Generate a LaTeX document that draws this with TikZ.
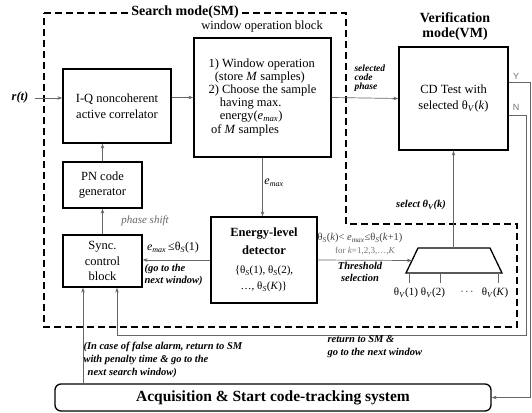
\documentclass[tikz,border=0pt]{standalone}
\usepackage{fontspec}
\setmainfont{Liberation Serif}
\setsansfont{Liberation Sans}
\usetikzlibrary{arrows.meta}

\newcommand{\thetaS}{θ\textsubscript{\textit{S}}}
\newcommand{\thetaV}{θ\textsubscript{\textit{V}}}
\newcommand{\emax}{\textit{e}\textsubscript{\textit{max}}}

\tikzset{
  blk/.style={draw, line width=1.3pt, align=center, inner sep=2pt, font=\fontsize{12.5}{15.5}\selectfont},
  arr/.style={draw=black!60, line width=0.7pt, -{Stealth[length=5pt,width=3.5pt]}},
  smbox/.style={line width=1.6pt, dash pattern=on 7pt off 4pt},
  lbl/.style={font=\fontsize{10.5}{12.8}\selectfont\bfseries\itshape, align=left},
}

\begin{document}
\begin{tikzpicture}[x=1pt,y=-1pt]
\useasboundingbox (0,0) rectangle (532,412);
% search mode region
\draw[smbox] (44,13) -- (346,13) -- (346,224) -- (517,224) -- (517,327) -- (44,327) -- cycle;
\node[fill=white, inner sep=1pt, font=\fontsize{14}{16}\selectfont\bfseries] (smlbl) at (185,12) {Search mode(SM)};

% blocks
\node[blk, minimum width=108pt, minimum height=74pt] (iq) at (117,106) {I-Q noncoherent\\active correlator};
\node[blk, minimum width=79pt, minimum height=46pt] (pn) at (102.5,185) {PN code\\generator};
\node[blk, minimum width=79pt, minimum height=52pt] (sync) at (102.5,261) {Sync.\\control\\block};
\node[blk, minimum width=137pt, minimum height=119pt, align=left, font=\fontsize{12.5}{13}\selectfont] (wop) at (262.5,97.5)
  {1) Window operation\\ \hspace*{0.5em}(store \textit{M} samples)\\2) Choose the sample\\ \hspace*{0.9em}having max.\\ \hspace*{0.9em}energy(\emax)\\[1pt] \hspace*{0.2em}of \textit{M} samples};
\node[blk, minimum width=106pt, minimum height=86pt] (enr) at (264,260)
  {\textbf{Energy-level}\\[2pt]\textbf{detector}\\[4pt]{\fontsize{11}{13}\selectfont\{\thetaS(1), \thetaS(2),}\\{\fontsize{11}{13}\selectfont…, \thetaS(\textit{K})\}}};
\node[blk, minimum width=109pt, minimum height=103pt] (cd) at (453.5,98.5) {CD Test with\\selected \thetaV(\textit{k})};
\node[draw, line width=1.3pt, rounded corners=6pt, minimum width=436pt, minimum height=27pt,
  font=\fontsize{15.5}{18}\selectfont\bfseries] (acq) at (273,397.5) {Acquisition \& Start code-tracking system};

% threshold selector
\draw[line width=1.3pt] (406,273) -- (418,248) -- (490,248) -- (502,273) -- cycle;
\coordinate (trin) at (412,260.5);
\coordinate (trtop) at (453.5,248);
\foreach \x in {409,440,498} \draw[black!60, line width=0.7pt] (\x,273) -- (\x,283);
\node[font=\fontsize{11}{12}\selectfont] (v1) at (406,293) {\thetaV(1)};
\node[font=\fontsize{11}{12}\selectfont] (v2) at (433,293) {\thetaV(2)};
\node[font=\fontsize{11}{12}\selectfont] (vd) at (467,292) {$\cdots$};
\node[font=\fontsize{11}{12}\selectfont] (vk) at (495,293) {\thetaV(\textit{K})};

% connectors
\coordinate (rin) at (35,98);
\coordinate (ycor) at (530,397.5);
\coordinate (ncor) at (526,335);
\coordinate (nend) at ([xshift=14.5pt]sync.south);
\coordinate (aend) at ([xshift=-19.5pt]sync.south);
\draw[arr] (rin) -- (rin -| iq.west);
\draw[arr] (iq.east |- wop.west) -- (wop.west);
\draw[arr] (wop.east) -- (cd.west);
\draw[arr] (wop.south) -- (wop.south |- enr.north);
\draw[arr] (enr.west) -- (enr.west -| sync.east);
\draw[arr] (sync.north) -- (pn.south);
\draw[arr] (pn.north) -- (pn.north |- iq.south);
\draw[arr] (enr.east) -- (trin);
\draw[arr] (trtop) -- (cd.south);
\draw[arr] ([yshift=16.5pt]cd.east) -| (ycor) -- (acq.east);
\draw[arr] ([yshift=-16.5pt]cd.east) -| (ncor) -| (nend);
\draw[arr] (acq.north -| aend) -- (aend);

% labels
\node[font=\fontsize{12.5}{14}\selectfont\bfseries\itshape] (rt) at (20,97) {r(t)};
\node[font=\fontsize{12.5}{14}\selectfont] (woplbl) at (262,26) {window operation block};
\node[align=center, font=\fontsize{14}{15}\selectfont\bfseries] (vmlbl) at (455,27) {Verification\\mode(VM)};
\node[lbl, anchor=west, font=\fontsize{9.5}{9}\selectfont\bfseries\itshape] (sclbl) at (351,78) {selected\\code\\phase};
\node[font=\fontsize{12}{14}\selectfont] (emlbl) at (274,183) {\emax};
\node[lbl] (svlbl) at (421,205) {select \thetaV(\textit{k})};
\node[text=black!75, font=\fontsize{10.5}{11}\selectfont] (cond) at (360,238) {\thetaS(\textit{k})< \emax≤\thetaS(\textit{k}+1)};
\node[text=black!55, font=\fontsize{9}{10}\selectfont] (forlbl) at (365,251) {for \textit{k}=1,2,3,…,\textit{K}};
\node[lbl, align=center] (thlbl) at (360,272) {Threshold\\selection};
\node[text=black!60, font=\fontsize{11}{13}\selectfont\itshape] (pslbl) at (145,221) {phase shift};
\node[font=\fontsize{12}{14}\selectfont] (e1lbl) at (173,248) {\emax\,≤\thetaS(1)};
\node[lbl, anchor=west] (golbl) at (141,275) {(go to the\\next window)};
\node[lbl, anchor=north west] (falbl) at (80,339) {(In case of false alarm, return to SM\\with penalty time \& go to the\\\hspace*{0.4em}next search window)};
\node[lbl, anchor=west] (retlbl) at (324,347) {return to SM \&\\go to the next window};
\node[text=black!55, font=\sffamily\fontsize{9}{10}\selectfont] (ylbl) at (516,76) {Y};
\node[text=black!55, font=\sffamily\fontsize{9}{10}\selectfont] (nlbl) at (516,107) {N};
\end{tikzpicture}
\end{document}
